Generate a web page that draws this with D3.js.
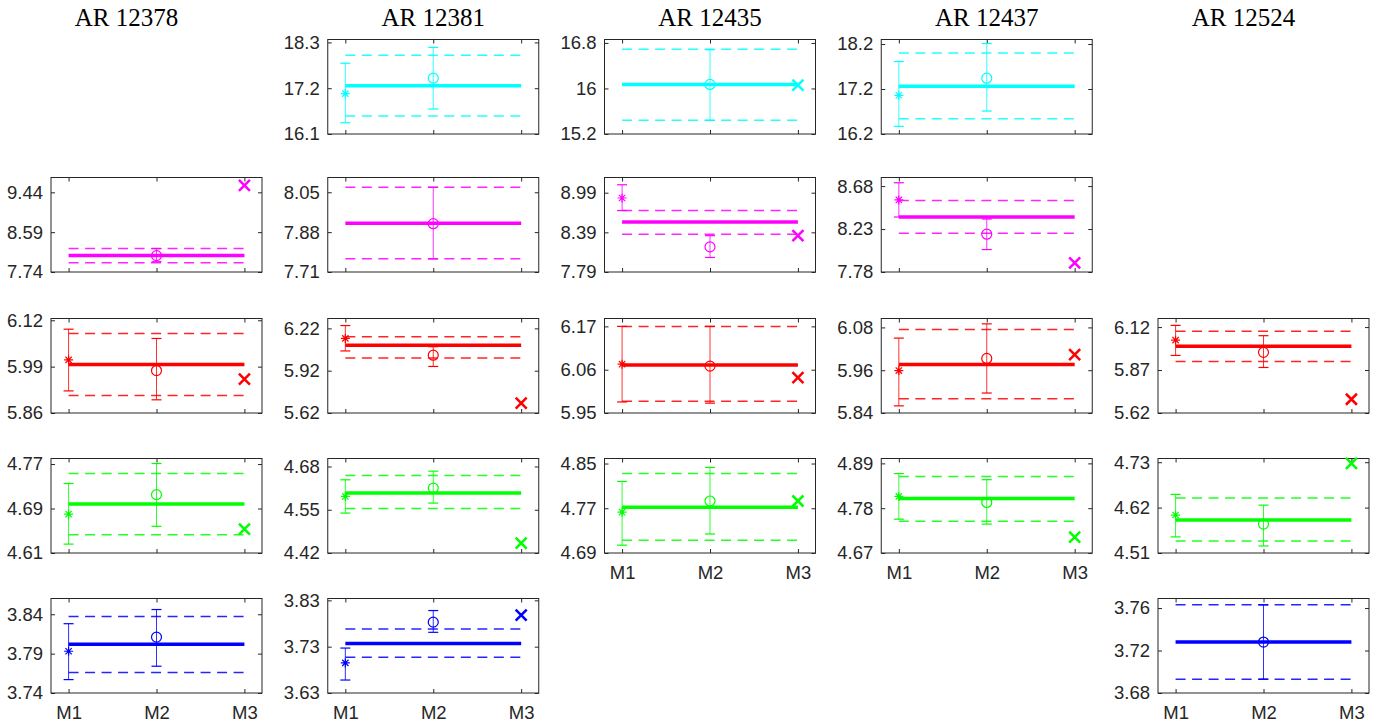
<!DOCTYPE html>
<html>
<head>
<meta charset="utf-8">
<script src="https://cdn.jsdelivr.net/npm/d3@7"></script>
<style>
body { margin: 0; background: #fff; }
</style>
</head>
<body>
<svg width="1391" height="726"></svg>
<script>
// regions (columns) and methods (x categories)
const regions = ["AR 12378", "AR 12381", "AR 12435", "AR 12437", "AR 12524"];
const methods = ["M1", "M2", "M3"];

// rows: cyan, magenta, red, green, blue bands; null = no panel
const yTicks = [
    [null, [16.1, 17.2, 18.3], [15.2, 16, 16.8], [16.2, 17.2, 18.2], null],
    [[7.74, 8.59, 9.44], [7.71, 7.88, 8.05], [7.79, 8.39, 8.99], [7.78, 8.23, 8.68], null],
    [[5.86, 5.99, 6.12], [5.62, 5.92, 6.22], [5.95, 6.06, 6.17], [5.84, 5.96, 6.08], [5.62, 5.87, 6.12]],
    [[4.61, 4.69, 4.77], [4.42, 4.55, 4.68], [4.69, 4.77, 4.85], [4.67, 4.78, 4.89], [4.51, 4.62, 4.73]],
    [[3.74, 3.79, 3.84], [3.63, 3.73, 3.83], null, null, [3.68, 3.72, 3.76]]
];
const yTop = [
    [null, 18.37, 16.86, 18.30, null],
    [9.756, 8.113, 9.22, 8.77, null],
    [6.125, 6.29, 6.19, 6.105, 6.17],
    [4.78, 4.704, 4.859, 4.902, 4.739],
    [3.86, 3.834, null, null, 3.769]
];

// [value, lower, upper]
const m1 = [
    [null, [17.07, 16.37, 17.80], null, [17.06, 16.37, 17.81], null],
    [null, null, [8.91, 8.72, 9.11], [8.535, 8.356, 8.715], null],
    [[6.009, 5.922, 6.095], [6.149, 6.06, 6.24], [6.074, 5.978, 6.17], [5.959, 5.86, 6.05], [6.044, 5.955, 6.13]],
    [[4.680, 4.626, 4.735], [4.59, 4.54, 4.64], [4.763, 4.704, 4.818], [4.809, 4.753, 4.865], [4.602, 4.549, 4.652]],
    [[3.793, 3.757, 3.828], [3.695, 3.658, 3.727], null, null, null]
];
const m2 = [
    [null, [17.44, 16.70, 18.18], [16.07, 15.44, 16.68], [17.44, 16.71, 18.21], null],
    [[8.09, 7.96, 8.24], [7.916, 7.766, 8.071], [8.17, 8.01, 8.34], [8.176, 8.015, 8.335], null],
    [[5.979, 5.897, 6.069], [6.03, 5.95, 6.09], [6.069, 5.975, 6.17], [5.993, 5.896, 6.09], [5.973, 5.885, 6.07]],
    [[4.715, 4.658, 4.771], [4.615, 4.57, 4.666], [4.783, 4.724, 4.843], [4.794, 4.741, 4.85], [4.58, 4.527, 4.626]],
    [[3.811, 3.774, 3.846], [3.783, 3.761, 3.808], null, null, [3.728, 3.693, 3.763]]
];
const m3 = [
    [null, null, 16.06, null, null],
    [9.59, null, 8.34, 7.876, null],
    [5.955, 5.69, 6.04, 6.004, 5.70],
    [4.653, 4.45, 4.783, 4.709, 4.727],
    [null, 3.798, null, null, null]
];
const meanLine = [
    [null, 17.26, 16.07, 17.26, null],
    [8.09, 7.918, 8.545, 8.356, null],
    [5.996, 6.10, 6.072, 5.976, 6.008],
    [4.698, 4.60, 4.772, 4.804, 4.59],
    [3.802, 3.737, null, null, 3.728]
];
const bandLo = [
    [null, 16.53, 15.44, 16.54, null],
    [7.94, 7.766, 8.36, 8.186, null],
    [5.909, 6.01, 5.98, 5.88, 5.92],
    [4.643, 4.554, 4.713, 4.748, 4.539],
    [3.766, 3.707, null, null, 3.693]
];
const bandHi = [
    [null, 17.99, 16.69, 18.00, null],
    [8.24, 8.071, 8.72, 8.53, null],
    [6.083, 6.16, 6.17, 6.074, 6.096],
    [4.753, 4.653, 4.832, 4.858, 4.643],
    [3.837, 3.768, null, null, 3.763]
];

const rowColors = ["#00ffff", "#ff00ff", "#ff0000", "#00ff00", "#0000ff"];
const axisColor = "#262626";

let svg = d3.select("svg");
const boxW = 211, boxH = 94.5;
const lefts = regions.map((d, i) => 51 + 276.75 * i);
const tops = [39.5, 177.5, 318.5, 458.5, 598.5];
const titleShift = [-30, 0, 0, 0, -20];

let x = d3.scaleLinear().domain([0.8, 3.2]).range([0, boxW]);

// titles
regions.forEach((name, c) => {
    svg.append("text")
        .attr("x", lefts[c] + boxW / 2 + titleShift[c])
        .attr("y", 26)
        .attr("text-anchor", "middle")
        .style("font-family", "'Liberation Serif', serif")
        .style("font-size", "25px")
        .style("fill", "#000")
        .text(name);
});

function errorBar(g, y, xi, v, color) {
    const cx = x(xi), w = 5;
    g.append("line").attr("x1", cx).attr("x2", cx).attr("y1", y(v[1])).attr("y2", y(v[2]))
        .attr("stroke", color).attr("stroke-width", 1).attr("opacity", 0.8);
    [v[1], v[2]].forEach(e => {
        g.append("line").attr("x1", cx - w).attr("x2", cx + w).attr("y1", y(e)).attr("y2", y(e))
            .attr("stroke", color).attr("stroke-width", 1.2);
    });
}

regions.forEach((name, c) => {
    // last panel in this column gets the x tick labels
    let lastRow = -1;
    yTicks.forEach((row, r) => { if (row[c]) lastRow = r; });

    yTicks.forEach((row, r) => {
        const ticks = row[c];
        if (!ticks) return;
        const color = rowColors[r];
        let g = svg.append("g")
            .attr("transform", "translate(" + lefts[c] + "," + tops[r] + ")");

        let y = d3.scaleLinear().domain([ticks[0], yTop[r][c]]).range([boxH, 0]);

        // axes with inward ticks
        let left = g.append("g").call(d3.axisLeft(y).tickValues(ticks)
            .tickFormat(d => String(d)).tickSizeInner(-4).tickSizeOuter(0).tickPadding(8));
        let right = g.append("g").attr("transform", "translate(" + boxW + ",0)")
            .call(d3.axisRight(y).tickValues(ticks).tickFormat("").tickSizeInner(-4).tickSizeOuter(0));
        let bottom = g.append("g").attr("transform", "translate(0," + boxH + ")")
            .call(d3.axisBottom(x).tickValues([1, 2, 3])
                .tickFormat(d => r === lastRow ? methods[d - 1] : "")
                .tickSizeInner(-4).tickSizeOuter(0).tickPadding(13));
        let top = g.append("g")
            .call(d3.axisTop(x).tickValues([1, 2, 3]).tickFormat("").tickSizeInner(-4).tickSizeOuter(0));
        [left, right, bottom, top].forEach(a => {
            a.select(".domain").remove();
            a.selectAll("line").attr("stroke", axisColor);
            a.selectAll("text")
                .style("font-family", "'Liberation Sans', Arial, sans-serif")
                .style("font-size", "18.5px")
                .attr("fill", axisColor);
        });
        g.append("rect").attr("width", boxW).attr("height", boxH)
            .attr("fill", "none").attr("stroke", axisColor).attr("stroke-width", 1);

        // dashed band
        [bandLo[r][c], bandHi[r][c]].forEach(v => {
            g.append("line").attr("x1", x(1)).attr("x2", x(3)).attr("y1", y(v)).attr("y2", y(v))
                .attr("stroke", color).attr("stroke-width", 1.5).attr("stroke-dasharray", "10,6.5")
                .attr("opacity", 0.85);
        });
        // mean line
        g.append("line").attr("x1", x(1)).attr("x2", x(3))
            .attr("y1", y(meanLine[r][c])).attr("y2", y(meanLine[r][c]))
            .attr("stroke", color).attr("stroke-width", 3.5);

        // M1: asterisk with error bar
        const a = m1[r][c];
        if (a) {
            errorBar(g, y, 1, a, color);
            const cx = x(1), cy = y(a[0]), s = 4.5;
            const star = d3.path();
            star.moveTo(cx - s, cy); star.lineTo(cx + s, cy);
            star.moveTo(cx, cy - s); star.lineTo(cx, cy + s);
            star.moveTo(cx - s * 0.7, cy - s * 0.7); star.lineTo(cx + s * 0.7, cy + s * 0.7);
            star.moveTo(cx - s * 0.7, cy + s * 0.7); star.lineTo(cx + s * 0.7, cy - s * 0.7);
            g.append("path").attr("d", star.toString()).attr("stroke", color).attr("stroke-width", 1.2);
        }
        // M2: circle with error bar
        const b = m2[r][c];
        if (b) {
            errorBar(g, y, 2, b, color);
            g.append("circle").attr("cx", x(2)).attr("cy", y(b[0])).attr("r", 5)
                .attr("fill", "none").attr("stroke", color).attr("stroke-width", 1.2);
        }
        // M3: cross
        const m = m3[r][c];
        if (m != null) {
            const cx = x(3), cy = y(m), s = 5.5;
            const cross = d3.path();
            cross.moveTo(cx - s, cy - s); cross.lineTo(cx + s, cy + s);
            cross.moveTo(cx - s, cy + s); cross.lineTo(cx + s, cy - s);
            g.append("path").attr("d", cross.toString()).attr("stroke", color).attr("stroke-width", 2.5);
        }
    });
});
</script>
</body>
</html>
